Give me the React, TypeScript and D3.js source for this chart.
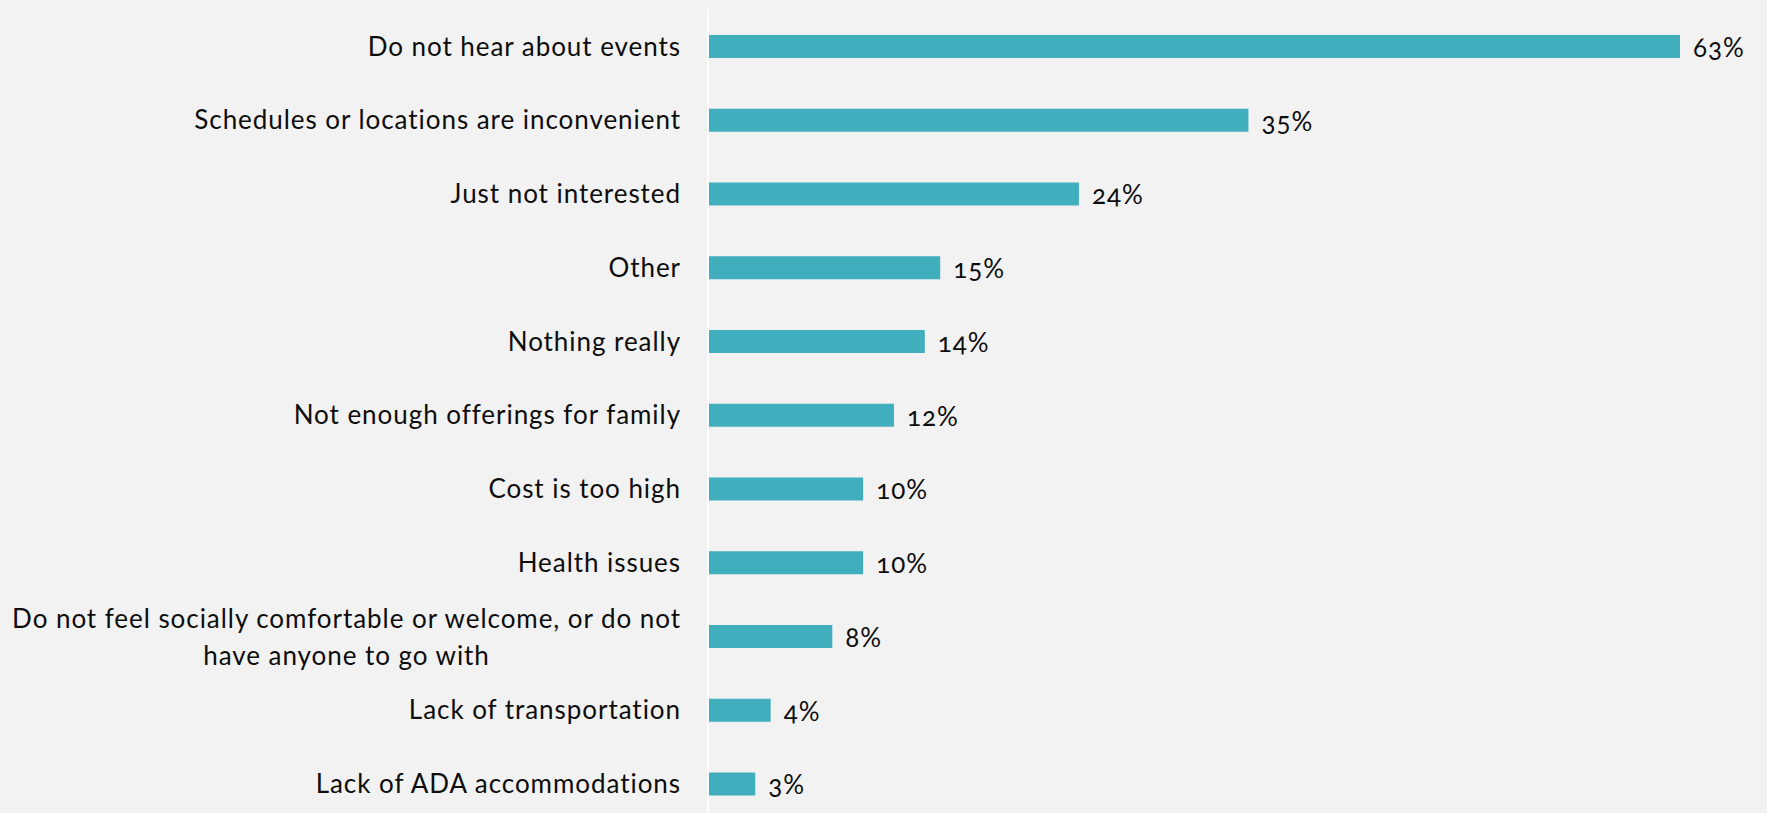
import React, { useEffect, useRef } from "react";
import * as d3 from "d3";

const categories: string[] = [
  "Do not hear about events",
  "Schedules or locations are inconvenient",
  "Just not interested",
  "Other",
  "Nothing really",
  "Not enough offerings for family",
  "Cost is too high",
  "Health issues",
  "Do not feel socially comfortable or welcome, or do not|have anyone to go with",
  "Lack of transportation",
  "Lack of ADA accommodations",
];
const values: number[] = [63, 35, 24, 15, 14, 12, 10, 10, 8, 4, 3];
const valueLabels: string[] = values.map((v) => `${v}%`);

const W = 1767;
const H = 813;
const FONT = "Lato, 'Open Sans', sans-serif";

export default function App() {
  const ref = useRef<SVGSVGElement | null>(null);

  useEffect(() => {
    document.body.style.margin = "0";
    const svg = d3.select(ref.current);
    svg.selectAll("*").remove();

    const x = d3.scaleLinear().domain([0, 63]).range([709, 1680]);
    const y = d3
      .scaleBand<string>()
      .domain(categories)
      .range([9.6, 820.9])
      .paddingInner(0.688)
      .paddingOuter(0.344);

    svg.append("rect").attr("width", W).attr("height", H).attr("fill", "#f2f2f2");

    svg
      .append("g")
      .selectAll("rect")
      .data(categories)
      .join("rect")
      .attr("x", x(0))
      .attr("y", (d) => y(d)!)
      .attr("width", (d, i) => x(values[i]) - x(0))
      .attr("height", y.bandwidth())
      .attr("fill", "#41aebd");

    // axis line
    svg
      .append("line")
      .attr("x1", x(0) - 1)
      .attr("x2", x(0) - 1)
      .attr("y1", 9)
      .attr("y2", H)
      .attr("stroke", "#ffffff")
      .attr("stroke-width", 1.5);

    const labelX = x(0) - 28;
    const lg = svg
      .append("g")
      .attr("font-family", FONT)
      .attr("font-size", 26)
      .attr("letter-spacing", 0.95)
      .attr("fill", "#0d0d0d");

    categories.forEach((c, i) => {
      const cy = y(c)! + y.bandwidth() / 2;
      const lines = c.split("|");
      if (lines.length === 1) {
        lg.append("text")
          .attr("x", labelX)
          .attr("y", cy)
          .attr("dy", "0.35em")
          .attr("text-anchor", "end")
          .text(lines[0]);
      } else {
        const t1 = lg
          .append("text")
          .attr("x", labelX)
          .attr("y", cy - 18)
          .attr("dy", "0.35em")
          .attr("text-anchor", "end")
          .text(lines[0]);
        const w = (t1.node() as SVGTextElement).getComputedTextLength();
        lg.append("text")
          .attr("x", labelX - w / 2)
          .attr("y", cy + 19)
          .attr("dy", "0.35em")
          .attr("text-anchor", "middle")
          .text(lines[1]);
      }
    });

    svg
      .append("g")
      .attr("font-family", FONT)
      .attr("font-size", 26)
      .attr("letter-spacing", 1)
      .attr("fill", "#0d0d0d")
      .style("font-variant-numeric", "oldstyle-nums")
      .selectAll("text")
      .data(categories)
      .join("text")
      .attr("x", (d, i) => x(values[i]) + 13)
      .attr("y", (d) => y(d)! + y.bandwidth() / 2)
      .attr("dy", "0.4em")
      .text((d, i) => valueLabels[i]);
  }, []);

  return (
    <svg
      ref={ref}
      width={W}
      height={H}
      style={{ position: "absolute", left: 0, top: 0, display: "block" }}
    />
  );
}
